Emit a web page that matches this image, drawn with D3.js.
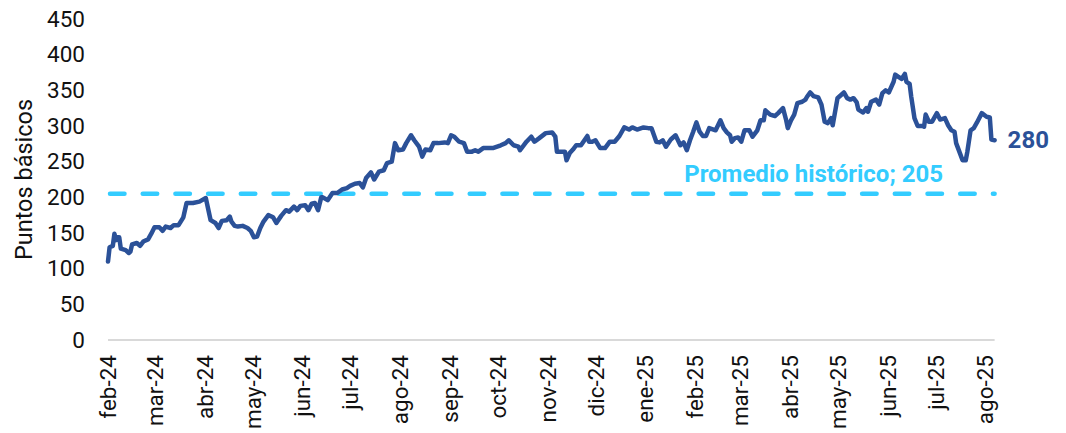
<!DOCTYPE html>
<html>
<head>
<meta charset="utf-8">
<script src="https://cdn.jsdelivr.net/npm/d3@7"></script>
<style>
  body { margin: 0; background: #fff; }
  svg { font-family: Roboto, "Liberation Sans", sans-serif; }
</style>
</head>
<body>
<svg width="1066" height="433"></svg>
<script>
// month ticks on the x axis
var tickDates = ["2024-02-01","2024-03-01","2024-04-01","2024-05-01","2024-06-01","2024-07-01",
  "2024-08-01","2024-09-01","2024-10-01","2024-11-01","2024-12-01","2025-01-01","2025-02-01",
  "2025-03-01","2025-04-01","2025-05-01","2025-06-01","2025-07-01","2025-08-01"];
var tickLabels = ["feb-24","mar-24","abr-24","may-24","jun-24","jul-24","ago-24","sep-24","oct-24",
  "nov-24","dic-24","ene-25","feb-25","mar-25","abr-25","may-25","jun-25","jul-25","ago-25"];
var yTicks = [0, 50, 100, 150, 200, 250, 300, 350, 400, 450];

// spread in basis points
var dates = [
  "2024-02-01","2024-02-02","2024-02-04","2024-02-05","2024-02-06","2024-02-07","2024-02-08","2024-02-09",
  "2024-02-12","2024-02-14","2024-02-15","2024-02-16","2024-02-19","2024-02-21","2024-02-23","2024-02-26",
  "2024-02-28","2024-03-01","2024-03-04","2024-03-06","2024-03-08","2024-03-11","2024-03-13","2024-03-16",
  "2024-03-19","2024-03-21","2024-03-25","2024-03-29","2024-04-02","2024-04-05","2024-04-08","2024-04-10",
  "2024-04-12","2024-04-15","2024-04-17","2024-04-18","2024-04-20","2024-04-22","2024-04-25","2024-04-28",
  "2024-04-30","2024-05-02","2024-05-04","2024-05-06","2024-05-08","2024-05-11","2024-05-14","2024-05-16",
  "2024-05-19","2024-05-22","2024-05-24","2024-05-27","2024-05-29","2024-05-31","2024-06-03","2024-06-05",
  "2024-06-07","2024-06-09","2024-06-11","2024-06-13","2024-06-14","2024-06-17","2024-06-20","2024-06-23",
  "2024-06-26","2024-06-29","2024-07-01","2024-07-04","2024-07-07","2024-07-09","2024-07-11","2024-07-14",
  "2024-07-16","2024-07-19","2024-07-22","2024-07-24","2024-07-27","2024-07-29","2024-07-31","2024-08-03",
  "2024-08-05","2024-08-08","2024-08-10","2024-08-13","2024-08-15","2024-08-17","2024-08-20","2024-08-22",
  "2024-08-25","2024-08-29","2024-08-31","2024-09-02","2024-09-04","2024-09-07","2024-09-10","2024-09-12",
  "2024-09-15","2024-09-17","2024-09-19","2024-09-22","2024-09-25","2024-09-28","2024-10-03","2024-10-06",
  "2024-10-08","2024-10-11","2024-10-14","2024-10-15","2024-10-19","2024-10-22","2024-10-24","2024-10-27",
  "2024-10-31","2024-11-04","2024-11-06","2024-11-07","2024-11-10","2024-11-12","2024-11-13","2024-11-15",
  "2024-11-17","2024-11-19","2024-11-22","2024-11-26","2024-11-27","2024-11-29","2024-12-01","2024-12-04",
  "2024-12-07","2024-12-10","2024-12-13","2024-12-16","2024-12-19","2024-12-22","2024-12-24","2024-12-27",
  "2024-12-31","2025-01-03","2025-01-05","2025-01-08","2025-01-10","2025-01-12","2025-01-14","2025-01-17",
  "2025-01-20","2025-01-23","2025-01-25","2025-01-27","2025-01-29","2025-01-31","2025-02-02","2025-02-04",
  "2025-02-06","2025-02-08","2025-02-10","2025-02-14","2025-02-17","2025-02-19","2025-02-21","2025-02-23",
  "2025-02-24","2025-02-26","2025-02-28","2025-03-02","2025-03-04","2025-03-07","2025-03-09","2025-03-12",
  "2025-03-14","2025-03-16","2025-03-17","2025-03-20","2025-03-23","2025-03-25","2025-03-28","2025-03-30",
  "2025-03-31","2025-04-02","2025-04-04","2025-04-06","2025-04-09","2025-04-11","2025-04-12","2025-04-14",
  "2025-04-16","2025-04-19","2025-04-21","2025-04-23","2025-04-25","2025-04-27","2025-04-28","2025-05-01",
  "2025-05-02","2025-05-05","2025-05-07","2025-05-09","2025-05-11","2025-05-13","2025-05-14","2025-05-17",
  "2025-05-19","2025-05-20","2025-05-22","2025-05-25","2025-05-27","2025-05-29","2025-05-31","2025-06-02",
  "2025-06-05","2025-06-06","2025-06-08","2025-06-10","2025-06-12","2025-06-13","2025-06-15","2025-06-16",
  "2025-06-18","2025-06-20","2025-06-23","2025-06-24","2025-06-25","2025-06-27","2025-06-29","2025-07-02",
  "2025-07-04","2025-07-07","2025-07-09","2025-07-11","2025-07-13","2025-07-14","2025-07-15","2025-07-18",
  "2025-07-20","2025-07-21","2025-07-23","2025-07-25","2025-07-27","2025-07-30","2025-08-02","2025-08-04",
  "2025-08-05","2025-08-07"];
var spread = [
  110,130,132,149,140,144,144,128,
  126,122,124,134,136,132,138,141,
  149,158,158,153,159,157,161,161,
  172,192,192,194,199,168,164,157,
  167,168,173,166,160,159,160,157,
  153,144,145,157,166,175,172,164,
  174,182,180,187,182,188,189,182,
  191,192,182,200,200,196,206,206,
  211,213,216,219,220,214,227,235,
  225,236,238,248,250,276,266,267,
  276,287,280,271,257,267,266,276,
  276,277,276,287,285,278,276,264,
  264,266,264,269,269,269,273,276,
  280,273,271,266,278,285,278,283,
  290,291,285,264,264,264,252,262,
  267,273,273,286,278,278,280,269,
  269,278,278,286,298,295,298,295,
  298,297,297,278,277,280,271,281,
  287,273,277,266,280,292,305,292,
  286,286,297,294,308,297,291,287,
  278,283,284,278,294,294,285,294,
  308,308,322,316,314,318,325,308,
  297,308,316,332,334,337,341,347,
  342,340,330,306,304,311,301,339,
  341,347,339,337,339,333,323,319,
  325,320,334,337,330,346,350,347,
  362,372,369,366,373,362,359,341,
  311,300,300,299,316,306,306,318,
  309,311,301,294,292,276,270,252,
  252,264,294,297,305,318,313,312,
  281,280];
var promedio = 205;
var lastLabel = "280";
var promedioLabel = "Promedio histórico; 205";
var yTitle = "Puntos básicos";

var svg = d3.select("svg");
var parse = d3.utcParse("%Y-%m-%d");

var data = dates.map(function(d, i) { return {date: parse(d), value: spread[i]}; });

var x = d3.scaleUtc()
    .domain([parse(tickDates[0]), parse(tickDates[tickDates.length - 1])])
    .range([108, 985]);
var y = d3.scaleLinear()
    .domain([0, 450])
    .range([340, 19]);

var firstDate = data[0].date,
    lastDate = data[data.length - 1].date;

// y axis labels
svg.append("g")
    .attr("transform", "translate(108,0)")
    .call(d3.axisLeft(y).tickValues(yTicks).tickSize(0).tickPadding(23))
    .call(function(g) { g.select(".domain").remove(); })
    .selectAll("text")
    .attr("font-size", 22.5)
    .attr("font-family", "Roboto, sans-serif")
    .attr("fill", "#111");

// x axis labels, rotated
svg.append("g")
    .attr("transform", "translate(0,340)")
    .call(d3.axisBottom(x)
        .tickValues(tickDates.map(parse))
        .tickFormat(function(d, i) { return tickLabels[i]; })
        .tickSize(0))
    .call(function(g) { g.select(".domain").remove(); })
    .selectAll("text")
    .attr("font-size", 22.5)
    .attr("font-family", "Roboto, sans-serif")
    .attr("fill", "#111")
    .attr("text-anchor", "end")
    .attr("transform", "rotate(-90)")
    .attr("x", -15)
    .attr("y", 0)
    .attr("dy", "0.35em");

// baseline
svg.append("line")
    .attr("x1", x(firstDate))
    .attr("x2", x(lastDate))
    .attr("y1", y(0))
    .attr("y2", y(0))
    .attr("stroke", "#d9d9d9")
    .attr("stroke-width", 2);

// y title
svg.append("text")
    .attr("transform", "translate(32," + (y(0) + y(450)) / 2 + ") rotate(-90)")
    .attr("text-anchor", "middle")
    .attr("font-size", 23.5)
    .attr("fill", "#111")
    .text(yTitle);

// historical average
svg.append("line")
    .attr("x1", x(firstDate) + 2)
    .attr("x2", x(lastDate))
    .attr("y1", y(promedio))
    .attr("y2", y(promedio))
    .attr("stroke", "#33ccff")
    .attr("stroke-width", 4.5)
    .attr("stroke-linecap", "round")
    .attr("stroke-dasharray", "14.5,18.2");

svg.append("text")
    .attr("x", 943)
    .attr("y", y(promedio) - 12)
    .attr("text-anchor", "end")
    .attr("font-size", 24)
    .attr("font-weight", "bold")
    .attr("fill", "#33ccff")
    .text(promedioLabel);

// spread line
var line = d3.line()
    .x(function(d) { return x(d.date); })
    .y(function(d) { return y(d.value); });

svg.append("path")
    .datum(data)
    .attr("fill", "none")
    .attr("stroke", "#2b5198")
    .attr("stroke-width", 4.5)
    .attr("stroke-linejoin", "round")
    .attr("stroke-linecap", "round")
    .attr("d", line);

svg.append("text")
    .attr("x", x(lastDate) + 13)
    .attr("y", y(data[data.length - 1].value) + 8)
    .attr("font-size", 24)
    .attr("font-weight", "bold")
    .attr("fill", "#2b5198")
    .text(lastLabel);
</script>
</body>
</html>
